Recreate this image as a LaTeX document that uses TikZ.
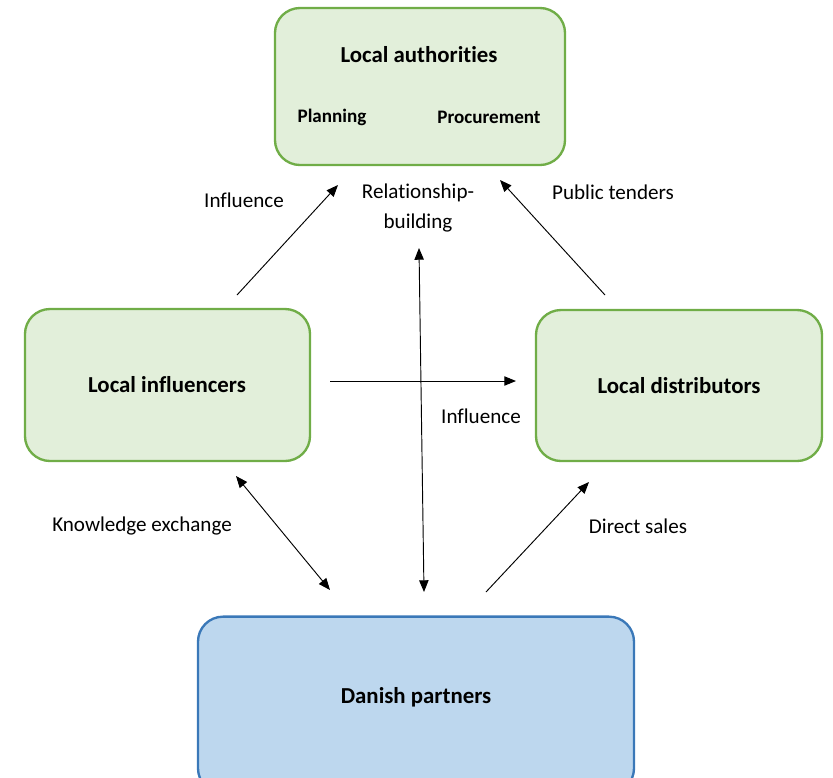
\documentclass[tikz,border=0pt]{standalone}
\usepackage{fontspec}
\setmainfont{Carlito}[Ligatures=NoCommon]
\usetikzlibrary{arrows.meta}
\definecolor{greenfill}{HTML}{E2EFDA}
\definecolor{greenline}{HTML}{70AD47}
\definecolor{bluefill}{HTML}{BDD7EE}
\definecolor{blueline}{HTML}{3A78B8}
\tikzset{
	greenbox/.style={rectangle, rounded corners=0.75cm, draw=greenline, fill=greenfill, line width=2pt},
	bluebox/.style={rectangle, rounded corners=0.75cm, draw=blueline, fill=bluefill, line width=2pt},
	boxtitle/.style={font=\fontsize{19.5}{23}\selectfont\bfseries},
	sublabel/.style={font=\fontsize{16.3}{19}\selectfont\bfseries},
	linklabel/.style={font=\fontsize{18}{24.8}\selectfont, align=center},
	link/.style={line width=0.8pt, -{Triangle[length=10pt,width=8pt]}},
	twolink/.style={line width=0.8pt, {Triangle[length=10pt,width=8pt]}-{Triangle[length=10pt,width=8pt]}}
}
\begin{document}
\begin{tikzpicture}[x=0.03cm, y=-0.03cm]
	\useasboundingbox (0,0) rectangle (833,777);
	% boxes
	\node (auth) at (420, 86.5)	[greenbox, minimum width=8.7cm, minimum height=4.71cm]	{};
	\node (infl) at (167.5, 385)	[greenbox, minimum width=8.55cm, minimum height=4.56cm]	{};
	\node (dist) at (679, 385.5)	[greenbox, minimum width=8.58cm, minimum height=4.53cm]	{};
	\node (dan) at (416, 705)	[bluebox, minimum width=13.08cm, minimum height=5.3cm]	{};
	% box texts
	\node (authtitle) at (419, 55)	[boxtitle]	{Local authorities};
	\node (planning) at (332, 117)	[sublabel]	{Planning};
	\node (procurement) at (489, 117)	[sublabel]	{Procurement};
	\node (infltitle) at (167, 385)	[boxtitle]	{Local influencers};
	\node (disttitle) at (679, 386)	[boxtitle]	{Local distributors};
	\node (dantitle) at (416, 697)	[boxtitle]	{Danish partners};
	% arrow ends
	\coordinate (a1) at (237, 295);
	\coordinate (a2) at (338, 185);
	\coordinate (b1) at (605, 295);
	\coordinate (b2) at (500, 180);
	\coordinate (c1) at (419, 248);
	\coordinate (c2) at (424, 592);
	\coordinate (d1) at (330, 381);
	\coordinate (d2) at (516, 381);
	\coordinate (e1) at (236, 476);
	\coordinate (e2) at (330, 590);
	\coordinate (f1) at (486, 592);
	\coordinate (f2) at (589, 482);
	% arrows
	\draw[link] (a1) -- (a2);
	\draw[link] (b1) -- (b2);
	\draw[twolink] (c1) -- (c2);
	\draw[link] (d1) -- (d2);
	\draw[twolink] (e1) -- (e2);
	\draw[link] (f1) -- (f2);
	% arrow labels
	\node (lab1) at (244, 200)	[linklabel]	{Influence};
	\node (lab2) at (613, 192)	[linklabel]	{Public tenders};
	\node (lab3) at (418, 208)	[linklabel]	{Relationship-\\building};
	\node (lab4) at (481, 416)	[linklabel]	{Influence};
	\node (lab5) at (142, 526)	[linklabel]	{Knowledge exchange};
	\node (lab6) at (638, 526)	[linklabel]	{Direct sales};
\end{tikzpicture}
\end{document}
